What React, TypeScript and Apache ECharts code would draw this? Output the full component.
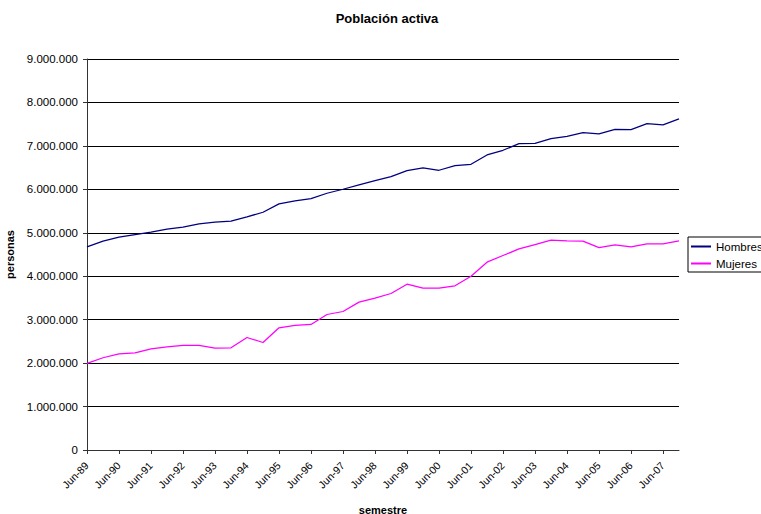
import React, { useEffect, useRef } from "react";
import * as echarts from "echarts";

const years = ["89","90","91","92","93","94","95","96","97","98","99","00","01","02","03","04","05","06","07"];
const categories: string[] = [];
years.forEach((y) => { categories.push("Jun-" + y); categories.push("Dec-" + y); });

const hombres = [
  4675000, 4806000, 4898000, 4959000, 5013000, 5082000, 5128000, 5205000, 5243000, 5266000,
  5366000, 5473000, 5665000, 5734000, 5787000, 5910000, 6002000, 6102000, 6201000, 6293000,
  6431000, 6493000, 6439000, 6546000, 6577000, 6792000, 6899000, 7052000, 7060000, 7167000,
  7221000, 7305000, 7275000, 7382000, 7374000, 7512000, 7482000, 7620000,
];

const mujeres = [
  1992000, 2123000, 2215000, 2238000, 2330000, 2376000, 2406000, 2406000, 2345000, 2353000,
  2590000, 2475000, 2813000, 2870000, 2890000, 3119000, 3188000, 3403000, 3495000, 3602000,
  3817000, 3725000, 3725000, 3779000, 4001000, 4323000, 4476000, 4630000, 4729000, 4829000,
  4814000, 4806000, 4660000, 4722000, 4676000, 4745000, 4745000, 4814000,
];

const fmt = (v: number) => String(Math.round(v)).replace(/\B(?=(\d{3})+(?!\d))/g, ".");

export default function App() {
  const ref = useRef<HTMLDivElement>(null);
  useEffect(() => {
    if (!ref.current) return;
    const chart = echarts.init(ref.current, null, { renderer: "svg" });
    const font = "Liberation Sans, Arial, sans-serif";
    chart.setOption({
      animation: false,
      backgroundColor: "#fff",
      textStyle: { fontFamily: font },
      title: {
        text: "Población activa",
        left: 382,
        textAlign: "center",
        top: 7,
        textStyle: { fontFamily: font, fontSize: 13, fontWeight: "bold", color: "#000" },
      },
      legend: {
        orient: "vertical",
        left: 688,
        top: 237,
        padding: [3, 8, 2, 3],
        itemGap: 4,
        itemWidth: 20,
        itemHeight: 2,
        borderColor: "#000",
        borderWidth: 1,
        backgroundColor: "#fff",
        icon: "rect",
        textStyle: { fontFamily: font, fontSize: 11.5, color: "#000", lineHeight: 13 },
        data: ["Hombres", "Mujeres"],
      },
      grid: { left: 87, right: 82, top: 59, bottom: 64, containLabel: false, outerBoundsMode: "none" },
      xAxis: {
        type: "category",
        data: categories,
        boundaryGap: false,
        name: "semestre",
        nameLocation: "middle",
        nameGap: 54,
        nameTextStyle: { fontFamily: font, fontSize: 11, fontWeight: "bold", color: "#000" },
        axisLine: { show: true, lineStyle: { color: "#333", width: 1 } },
        axisTick: { show: true, interval: 1, length: 4, inside: false, lineStyle: { color: "#333" } },
        axisLabel: { interval: 1, rotate: 45, margin: 14, fontSize: 10.5, color: "#000", fontFamily: font },
        splitLine: { show: false },
      },
      yAxis: {
        type: "value",
        min: 0,
        max: 9000000,
        interval: 1000000,
        name: "personas",
        nameLocation: "middle",
        nameGap: 69,
        nameRotate: 90,
        nameTextStyle: { fontFamily: font, fontSize: 11, fontWeight: "bold", color: "#000" },
        axisLine: { show: true, lineStyle: { color: "#333", width: 1 } },
        axisTick: { show: true, length: 4, lineStyle: { color: "#333" } },
        axisLabel: { formatter: fmt, margin: 9, fontSize: 11.5, color: "#000", fontFamily: font },
        splitLine: { show: true, lineStyle: { color: "#000", width: 1 } },
      },
      series: [
        {
          name: "Hombres",
          type: "line",
          data: hombres,
          symbol: "none",
          showSymbol: false,
          itemStyle: { color: "#000080" },
          lineStyle: { color: "#000080", width: 1.25 },
        },
        {
          name: "Mujeres",
          type: "line",
          data: mujeres,
          symbol: "none",
          showSymbol: false,
          itemStyle: { color: "#FF00FF" },
          lineStyle: { color: "#FF00FF", width: 1.25 },
        },
      ],
    });
    return () => chart.dispose();
  }, []);
  return (
    <div
      ref={ref}
      style={{ position: "absolute", left: 0, top: 0, width: 761, height: 514 }}
    />
  );
}
